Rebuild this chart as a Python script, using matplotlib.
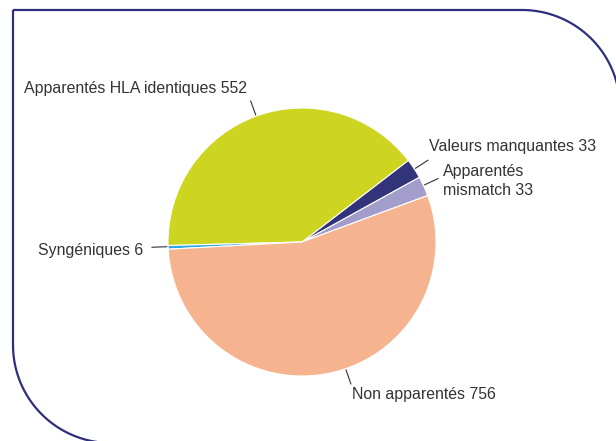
import numpy as np
import matplotlib
matplotlib.use("Agg")
import matplotlib.pyplot as plt
from matplotlib.path import Path
from matplotlib.patches import PathPatch

# donnees (ordre anti-horaire a partir de startangle)
labels = ["Apparentés\nmismatch 33", "Valeurs manquantes 33", "Apparentés HLA identiques 552",
          "Syngéniques 6", "Non apparentés 756"]
values = [33, 33, 552, 6, 756]
colors = ["#a39dcc", "#33337a", "#cdd520", "#2aa8e0", "#f5b48f"]

W, H = 616, 441
fig = plt.figure(figsize=(W / 100, H / 100), dpi=100)
ax = fig.add_axes([0, 0, 1, 1])

# cadre arrondi (coins haut-droit et bas-gauche)
R = 98
x0, y0 = 13, H - 10      # haut gauche
x1, yb = 620, -2         # droite, bas
t = np.linspace(0, np.pi / 2, 40)
pts = [(x0, y0)] + [(x1 - R + R * np.sin(a), y0 - R + R * np.cos(a)) for a in t]
pts += [(x1, yb), (x0 + R, yb)]
pts += [(x0 + R - R * np.sin(a), yb + R - R * np.cos(a)) for a in t] + [(x0, y0)]
ax.add_patch(PathPatch(Path(pts), fill=False, edgecolor="#2e2f7c", lw=1.6))

cx, cy, r = 302, H - 242, 134
start = 20.3
wedges, _ = ax.pie(values, colors=colors, startangle=start, counterclock=True,
                   center=(cx, cy), radius=r, frame=True,
                   wedgeprops=dict(edgecolor="white", linewidth=0.8))
ax.set_xlim(0, W)
ax.set_ylim(0, H)
ax.set_aspect("equal")
ax.axis("off")

# etiquettes
lead_ang = [25, 33, 110, 182, 289]
text_pos = [(443, H - 181), (429, H - 146), (247, H - 88), (143, H - 250), (352, H - 395)]
ha = ["left", "left", "right", "right", "left"]
for lab, a, (tx, ty), h in zip(labels, lead_ang, text_pos, ha):
    th = np.deg2rad(a)
    p0 = (cx + r * 1.01 * np.cos(th), cy + r * 1.01 * np.sin(th))
    p1 = (cx + r * 1.12 * np.cos(th), cy + r * 1.12 * np.sin(th))
    ax.plot([p0[0], p1[0]], [p0[1], p1[1]], color="#333333", lw=0.8)
    ax.text(tx, ty, lab, ha=h, va="center", fontsize=11.4, color="#333333",
            family="Liberation Sans", linespacing=1.3)

fig.savefig("out.png", dpi=100)
